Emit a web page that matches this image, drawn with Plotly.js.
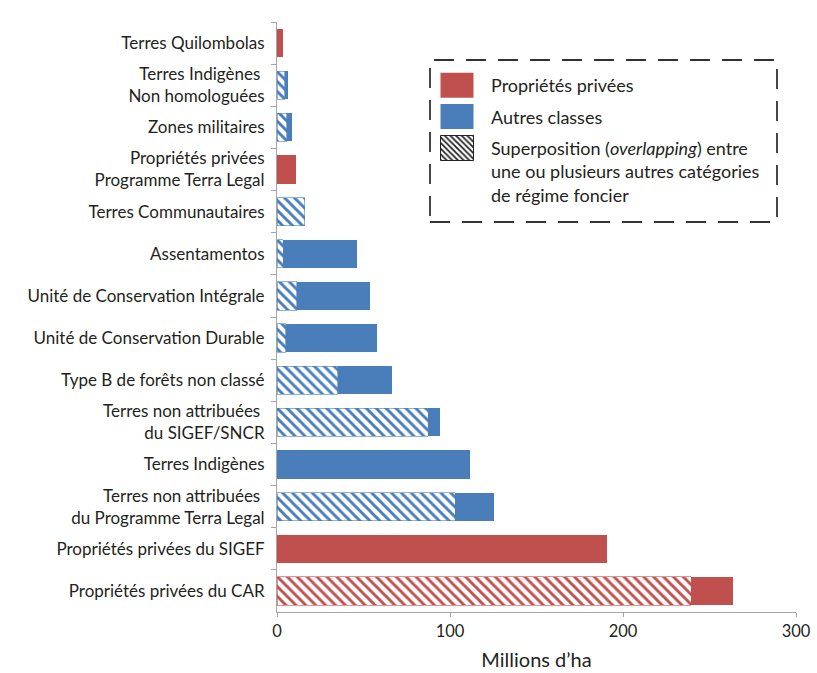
<!DOCTYPE html>
<html>
<head>
<meta charset="utf-8">
<script src="https://cdn.plot.ly/plotly-3.0.1.min.js"></script>
<style>
  html, body { margin: 0; padding: 0; background: #fff; }
  #chart { width: 817px; height: 673px; }
</style>
</head>
<body>
<div id="chart"></div>
<script>
// Categories, top to bottom
const categories = [
  'Terres Quilombolas',
  'Terres Indigènes <br>Non homologuées',
  'Zones militaires',
  'Propriétés privées<br>Programme Terra Legal',
  'Terres Communautaires',
  'Assentamentos',
  'Unité de Conservation Intégrale',
  'Unité de Conservation Durable',
  'Type B de forêts non classé',
  'Terres non attribuées <br>du SIGEF/SNCR',
  'Terres Indigènes',
  'Terres non attribuées <br>du Programme Terra Legal',
  'Propriétés privées du SIGEF',
  'Propriétés privées du CAR'
];
// 'priv' = Propriétés privées, 'autre' = Autres classes
const classes = ['priv','autre','autre','priv','autre','autre','autre','autre','autre','autre','autre','autre','priv','priv'];
// Overlapping part (hatched), millions ha
const overlapValues = [0, 4.5, 5.5, 0, 16, 3.5, 11.5, 5, 35, 87.5, 0, 103, 0, 239.5];
// Non-overlapping part (solid), millions ha
const exclusiveValues = [3.5, 2, 3, 11, 0, 43, 42.5, 53, 31.5, 7, 111.5, 22.5, 191, 24];

const xTicks = [0, 100, 200, 300];
const legendLabels = [
  'Propriétés privées',
  'Autres classes',
  'Superposition (<i>overlapping</i>) entre<br>une ou plusieurs autres catégories<br>de régime foncier'
];

const RED = '#c0504d';
const BLUE = '#4a7ebb';
const pick = (vals, cls) => vals.map((v, i) => (classes[i] === cls && v > 0) ? v : null);

function hatched(vals, cls, color) {
  return {
    type: 'bar', orientation: 'h',
    x: pick(vals, cls), y: categories,
    showlegend: false,
    marker: {
      color: color,
      line: { color: color, width: 0.6 },
      pattern: { shape: '\\', size: 7, solidity: 0.42, fgcolor: color, bgcolor: '#ffffff', fillmode: 'replace' }
    },
    hoverinfo: 'x+y'
  };
}
function solid(vals, cls, color, name, showlegend) {
  return {
    type: 'bar', orientation: 'h',
    x: pick(vals, cls), y: categories,
    name: name, showlegend: showlegend, legendgroup: name,
    marker: { color: color, line: { width: 0 } },
    hoverinfo: 'x+y'
  };
}

const data = [
  hatched(overlapValues, 'priv', RED),
  hatched(overlapValues, 'autre', BLUE),
  solid(exclusiveValues, 'priv', RED, legendLabels[0], true),
  solid(exclusiveValues, 'autre', BLUE, legendLabels[1], true),
  {
    type: 'bar', orientation: 'h', x: [null], y: [categories[0]],
    name: legendLabels[2], legendgroup: 'overlap', showlegend: true,
    marker: { color: '#222', line: { color: '#222', width: 1 },
      pattern: { shape: '\\', size: 5, solidity: 0.45, fgcolor: '#222', bgcolor: '#fff', fillmode: 'replace' } },
    hoverinfo: 'skip'
  }
];

const L = 277, R = 21, T = 22, B = 61;
const W = 817, H = 673;
const pw = W - L - R, ph = H - T - B;
const px = v => (v - L) / pw;
const py = v => (H - B - v) / ph;

const layout = {
  width: W, height: H,
  margin: { l: L, r: R, t: T, b: B, pad: 0 },
  paper_bgcolor: '#fff', plot_bgcolor: '#fff',
  font: { family: 'Lato, "Open Sans", sans-serif', size: 16, color: '#231f20' },
  barmode: 'stack',
  bargap: 0.33,
  xaxis: {
    range: [0, 300], tickvals: xTicks, ticktext: xTicks.map(String),
    showgrid: false, zeroline: false,
    showline: true, linecolor: '#a6a6a6', linewidth: 1,
    ticks: 'outside', ticklen: 4, tickcolor: '#a6a6a6',
    tickfont: { size: 16.5 },
    title: { text: 'Millions d’ha', font: { size: 20 }, standoff: 13 },
    fixedrange: true
  },
  yaxis: {
    type: 'category', autorange: 'reversed',
    showgrid: false, zeroline: false,
    showline: true, linecolor: '#a6a6a6', linewidth: 1,
    ticks: 'outside', ticklen: 5, tickcolor: '#a6a6a6', tickson: 'boundaries',
    ticklabelstandoff: 8,
    tickfont: { size: 17 },
    fixedrange: true
  },
  legend: {
    x: px(423), y: py(67), xanchor: 'left', yanchor: 'top',
    bgcolor: 'rgba(0,0,0,0)', borderwidth: 0,
    itemwidth: 58, valign: 'top',
    traceorder: 'grouped', tracegroupgap: 5,
    font: { size: 18, color: '#231f20' },
    itemclick: false, itemdoubleclick: false
  },
  shapes: [{
    type: 'rect', xref: 'paper', yref: 'paper',
    x0: px(430), x1: px(777), y0: py(222), y1: py(60),
    line: { color: '#333', width: 1.8, dash: '20px,12px' },
    fillcolor: 'rgba(0,0,0,0)'
  }]
};

Plotly.newPlot('chart', data, layout, { displayModeBar: false }).then(gd => {
  // enlarge legend swatches to match the reference squares
  document.querySelectorAll('.legend .traces path.legendbar, .legend .traces path.legendundefined').forEach(p => {
    p.setAttribute('d', 'M16.5,12.5H-16.5V-12.5H16.5Z');
  });
});
</script>
</body>
</html>
